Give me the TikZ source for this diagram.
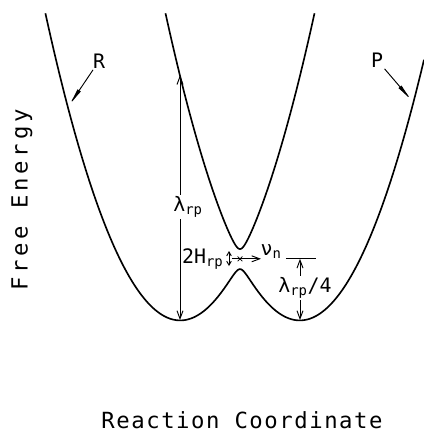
\documentclass[tikz,border=0pt]{standalone}
\usepackage{fontspec}
\setmainfont{DejaVu Sans Mono}
\newfontfamily\axisfont[LetterSpace=7]{DejaVu Sans Mono}
\newfontfamily\yaxisfont[LetterSpace=17]{DejaVu Sans Mono}
\usetikzlibrary{backgrounds}
\usetikzlibrary{arrows.meta}
\usetikzlibrary{shapes,shapes.misc}
\pgfdeclarelayer{edgelayer}
\pgfdeclarelayer{nodelayer}
\pgfsetlayers{background,edgelayer,nodelayer,main}
\tikzstyle{none}=[inner sep=0mm]
\tikzstyle{surface}=[line width=1.4pt,smooth,samples=200]
\tikzstyle{thin}=[line width=0.8pt]
\tikzstyle{lab}=[inner sep=0.4mm,font=\fontsize{17}{17}\selectfont]
\tikzstyle{wlab}=[lab,fill=white]
\tikzstyle{axis}=[inner sep=0mm,font=\axisfont\fontsize{19}{19}\selectfont]
\tikzstyle{yaxis}=[inner sep=0mm,font=\yaxisfont\fontsize{19}{19}\selectfont]
\tikzstyle{xmark}=[cross out,draw,line width=0.6pt,minimum size=1.2mm,inner sep=0mm]
\tikzstyle{dbl}=[thin,{Straight Barb[length=2.4mm,width=1.8mm]}-{Straight Barb[length=2.4mm,width=1.8mm]}]
\tikzstyle{small dbl}=[thin,{Straight Barb[length=1.2mm,width=1.4mm]}-{Straight Barb[length=1.2mm,width=1.4mm]}]
\tikzstyle{onearrow}=[thin,-{Straight Barb[length=2.4mm,width=1.8mm]}]
\tikzstyle{pointer}=[thin,-{Latex[length=6mm,width=1.2mm]}]

\begin{document}
\begin{tikzpicture}[x=0.03cm,y=-0.03cm,
	declare function={ea(\x)=0.0017*(\x-180)*(\x-180); eb(\x)=0.0017*(\x-300)*(\x-300);
		lo(\x)=320-10*((ea(\x)+eb(\x))/2-veclen((ea(\x)-eb(\x))/2,1));
		up(\x)=320-10*((ea(\x)+eb(\x))/2+veclen((ea(\x)-eb(\x))/2,1));}]
	\useasboundingbox (0, 0) rectangle (424, 434);
		\begin{pgfonlayer}{nodelayer}
			\node [style=yaxis, rotate=90] (yaxis) at (22, 200) {Free Energy};
		\node [style=axis] (xaxis) at (242, 420) {Reaction Coordinate};
		\node [style=lab] (R) at (99, 61) {R};
		\node [style=none] (rtip) at (68, 107) {};
		\node [style=lab] (P) at (377, 60) {P};
		\node [style=none] (ptip) at (413, 102) {};
		\node [style=none] (ltop) at (180, 75.2) {};
		\node [style=none] (lbot) at (180, 320) {};
		\node [style=wlab] (lam) at (188, 207) {λ\textsubscript{rp}};
		\node [style=none] (htop) at (229, 251) {};
		\node [style=none] (hbot) at (229, 266) {};
		\node [style=lab, anchor=east] (H) at (225, 259) {2H\textsubscript{rp}};
		\node [style=xmark] (cross) at (240, 258.8) {};
		\node [style=none] (nus) at (232, 258.8) {};
		\node [style=none] (nue) at (261, 258.8) {};
		\node [style=lab, anchor=west] (nu) at (259, 252) {ν\textsubscript{n}};
		\node [style=none] (q1) at (286, 258.8) {};
		\node [style=none] (q2) at (316, 258.8) {};
		\node [style=none] (qtop) at (300, 258.8) {};
		\node [style=none] (qbot) at (300, 320) {};
		\node [style=wlab] (quart) at (305, 288) {λ\textsubscript{rp}/4};
	\end{pgfonlayer}
	\begin{pgfonlayer}{edgelayer}
		\draw[style=surface, domain=45.4:424] plot (\x, {lo(\x)});
		\draw[style=surface, domain=165.5:314.5] plot (\x, {up(\x)});
		\draw[style=pointer] (R) to (rtip.center);
		\draw[style=pointer] (P) to (ptip.center);
		\draw[style=dbl] (lbot.center) to (ltop.center);
		\draw[style=small dbl] (hbot.center) to (htop.center);
		\draw[style=onearrow] (nus.center) to (nue.center);
		\draw[style=thin] (q1.center) to (q2.center);
		\draw[style=dbl] (qbot.center) to (qtop.center);
		\end{pgfonlayer}
\end{tikzpicture}
\end{document}
